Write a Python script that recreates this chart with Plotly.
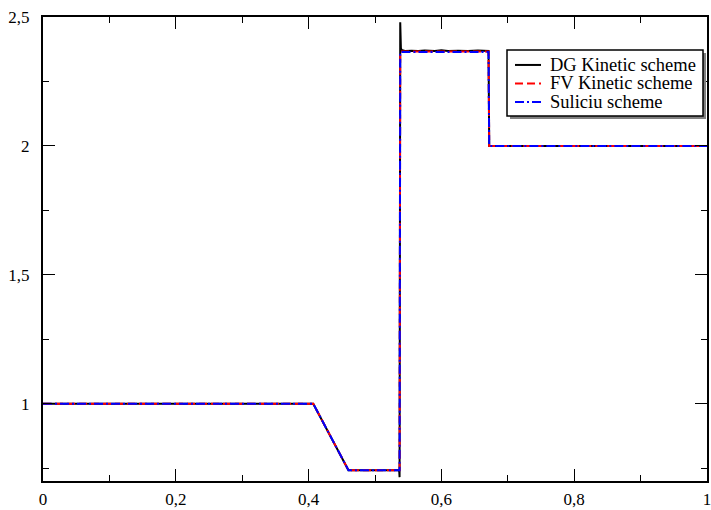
import plotly.graph_objects as go

# ---- data ----
fv_x = [0.0, 0.407, 0.460, 0.537, 0.538, 0.671, 0.672, 1.0]
fv_y = [1.0, 1.0, 0.742, 0.742, 2.366, 2.366, 2.0, 2.0]

su_x = [0.0, 0.407, 0.460, 0.537, 0.538, 0.671, 0.672, 1.0]
su_y = [1.0, 1.0, 0.742, 0.742, 2.364, 2.364, 2.0, 2.0]

dg_x = [0.0, 0.407, 0.460, 0.535, 0.5365, 0.537, 0.5375, 0.538, 0.5385, 0.539, 0.540,
        0.542, 0.545, 0.555, 0.565, 0.575, 0.590, 0.600, 0.610, 0.625, 0.640,
        0.655, 0.665, 0.671, 0.672, 1.0]
dg_y = [1.0, 1.0, 0.742, 0.742, 0.738, 0.715, 1.6, 2.48, 2.40, 2.38, 2.372,
        2.370, 2.368, 2.369, 2.368, 2.370, 2.368, 2.371, 2.368, 2.369, 2.368,
        2.370, 2.368, 2.368, 2.0, 2.0]

x_ticks = [0, 0.2, 0.4, 0.6, 0.8, 1.0]
x_labels = ["0", "0,2", "0,4", "0,6", "0,8", "1"]
y_ticks = [1.0, 1.5, 2.0, 2.5]
y_labels = ["1", "1,5", "2", "2,5"]
names = ["DG Kinetic scheme", "FV Kinetic scheme", "Suliciu scheme"]

FONT = "Liberation Serif"
W, H = 711, 510
ML, MR, MT, MB = 43, 4, 17, 28.5
PW, PH = W - ML - MR, H - MT - MB

colors = ["black", "#ff0000", "#0000ff"]
dashes = ["solid", "8px,4px", "9px,3px,2px,3px"]

fig = go.Figure()
for xs, ys, nm, c, d in [(dg_x, dg_y, names[0], colors[0], dashes[0]),
                         (fv_x, fv_y, names[1], colors[1], dashes[1]),
                         (su_x, su_y, names[2], colors[2], dashes[2])]:
    fig.add_trace(go.Scatter(x=xs, y=ys, mode="lines", name=nm,
                             line=dict(color=c, width=2, dash=d), showlegend=False))

axis_common = dict(
    showgrid=False, zeroline=False, showline=True, linecolor="black", linewidth=2,
    mirror="ticks", ticks="inside", ticklen=12, tickwidth=1.3, tickcolor="black",
    tickfont=dict(family=FONT, size=17, color="black"), automargin=False,
    ticklabeloverflow="allow",
)

fig.update_xaxes(range=[0, 1], tickmode="array", tickvals=x_ticks, ticktext=x_labels,
                 minor=dict(tickmode="linear", tick0=0, dtick=0.1, ticks="inside",
                            ticklen=6, tickwidth=1.3, tickcolor="black"),
                 ticklabelstandoff=2,
                 **axis_common)
fig.update_yaxes(range=[0.7, 2.5], tickmode="array", tickvals=y_ticks, ticktext=y_labels,
                 minor=dict(tickmode="linear", tick0=0, dtick=0.25, ticks="inside",
                            ticklen=6, tickwidth=1.3, tickcolor="black"),
                 ticklabelstandoff=8,
                 **axis_common)


def px_x(p):
    return (p - ML) / PW


def px_y(p):
    return 1 - (p - MT) / PH


# hand-drawn legend box (with a drop shadow) in paper coordinates
box = (507, 50, 703, 116)
shapes = [
    dict(type="rect", xref="paper", yref="paper",
         x0=px_x(box[0] + 3), x1=px_x(box[2] + 3), y0=px_y(box[3] + 3), y1=px_y(box[1] + 3),
         fillcolor="#808080", line=dict(width=0), layer="above"),
    dict(type="rect", xref="paper", yref="paper",
         x0=px_x(box[0]), x1=px_x(box[2]), y0=px_y(box[3]), y1=px_y(box[1]),
         fillcolor="white", line=dict(color="black", width=1.5), layer="above"),
]
annotations = []
rows = [65, 83.5, 102]
for i, (nm, c, d) in enumerate(zip(names, colors, dashes)):
    shapes.append(dict(type="line", xref="paper", yref="paper",
                       x0=px_x(515), x1=px_x(541), y0=px_y(rows[i]), y1=px_y(rows[i]),
                       line=dict(color=c, width=2, dash=d), layer="above"))
    annotations.append(dict(xref="paper", yref="paper", x=px_x(548), y=px_y(rows[i]),
                            xanchor="left", yanchor="middle", showarrow=False, text=nm,
                            font=dict(family=FONT, size=18.5, color="black")))

fig.update_layout(
    width=W, height=H,
    margin=dict(l=ML, r=MR, t=MT, b=MB, pad=0),
    plot_bgcolor="white", paper_bgcolor="white",
    font=dict(family=FONT, size=17, color="black"),
    showlegend=False,
    shapes=shapes, annotations=annotations,
)

fig.write_html("out.html", config={"displayModeBar": False},
               post_script="document.body.style.margin='0';")
